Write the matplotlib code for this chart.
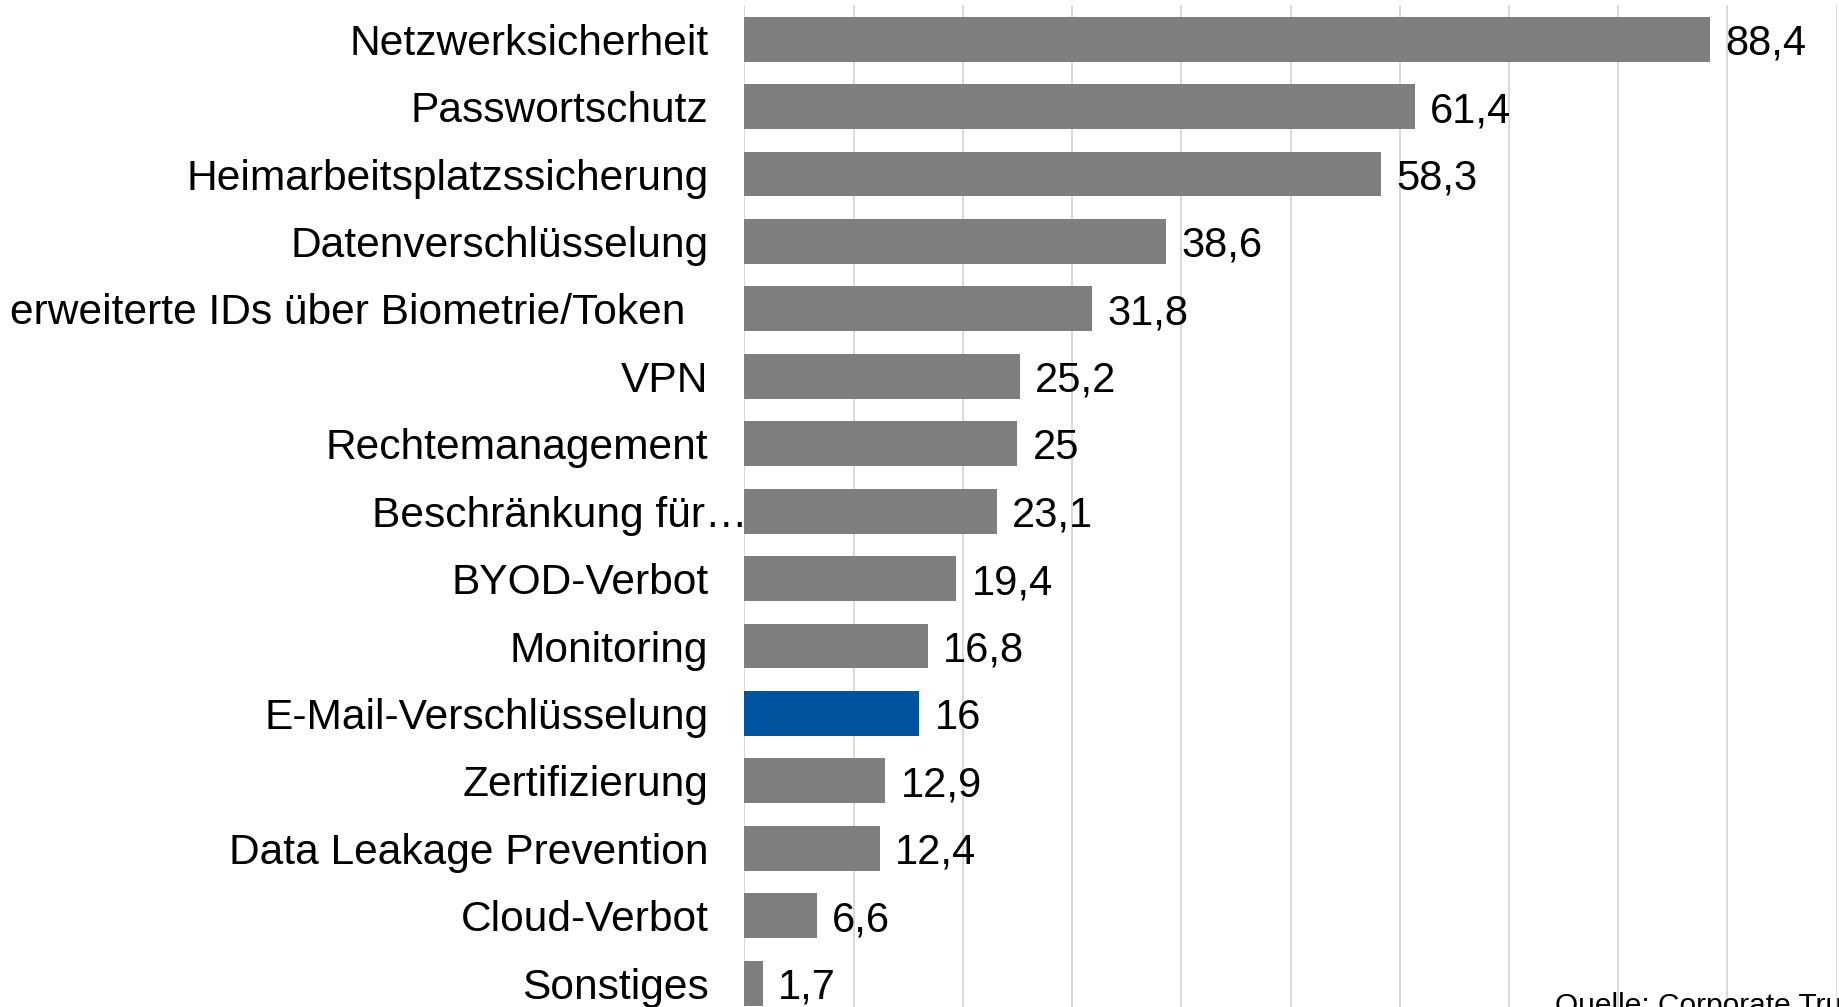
import matplotlib
matplotlib.use("Agg")
import matplotlib.pyplot as plt

# ==========================
# DATA
# ==========================

categories = [
    "Netzwerksicherheit",
    "Passwortschutz",
    "Heimarbeitsplatzssicherung",
    "Datenverschlüsselung",
    "erweiterte IDs über Biometrie/Token  ",
    "VPN",
    "Rechtemanagement",
    "Beschränkung für…",
    "BYOD-Verbot",
    "Monitoring",
    "E-Mail-Verschlüsselung",
    "Zertifizierung",
    "Data Leakage Prevention",
    "Cloud-Verbot",
    "Sonstiges",
]

values = [88.4, 61.4, 58.3, 38.6, 31.8, 25.2, 25, 23.1, 19.4, 16.8, 16, 12.9, 12.4, 6.6, 1.7]

highlight = "E-Mail-Verschlüsselung"
truncated = "Beschränkung für…"
source = "Quelle: Corporate Trust"

# ==========================
# STYLE
# ==========================

plt.rcParams['font.family'] = ['Liberation Sans', 'DejaVu Sans']

GRAY = "#7f7f7f"
BLUE = "#00539f"
GRID = "#d9d9d9"
FS_CAT = 30.6
FS_VAL = 30

# ==========================
# CHART
# ==========================

fig = plt.figure(figsize=(18.4, 10.07), dpi=100)
ax = fig.add_axes([744.5 / 1840, -0.0098, 1092 / 1840, 1.0044])

colors = [BLUE if c == highlight else GRAY for c in categories]
ypos = list(range(len(categories)))

ax.barh(ypos, values, height=0.667, color=colors, zorder=2)

ax.set_xlim(0, 100)
ax.set_ylim(len(categories) - 0.5, -0.5)
ax.set_xticks(range(0, 101, 10))
ax.xaxis.grid(True, color=GRID, linewidth=1.4, zorder=0)
ax.set_axisbelow(True)
ax.tick_params(axis='x', length=0, labelbottom=False)
ax.set_yticks([])
for s in ax.spines.values():
    s.set_visible(False)

# category labels (the truncated one runs up to the axis, like in Excel)
for y, cat in zip(ypos, categories):
    off = 2 if cat == truncated else -26
    ax.annotate(cat, xy=(0, y), xytext=(off, 0), textcoords='offset points',
                ha='right', va='center_baseline', fontsize=FS_CAT, color='black',
                annotation_clip=False)

# value labels
for y, v in zip(ypos, values):
    ax.annotate(f"{v:g}".replace(".", ","), xy=(v, y), xytext=(11, 0),
                textcoords='offset points', ha='left', va='center_baseline',
                fontsize=FS_VAL, color='black', zorder=3)

fig.text(1555 / 1840, 1 - 1013.5 / 1007, source, fontsize=21.5,
         ha='left', va='baseline', color='black')

fig.savefig("out.png", dpi=100)
